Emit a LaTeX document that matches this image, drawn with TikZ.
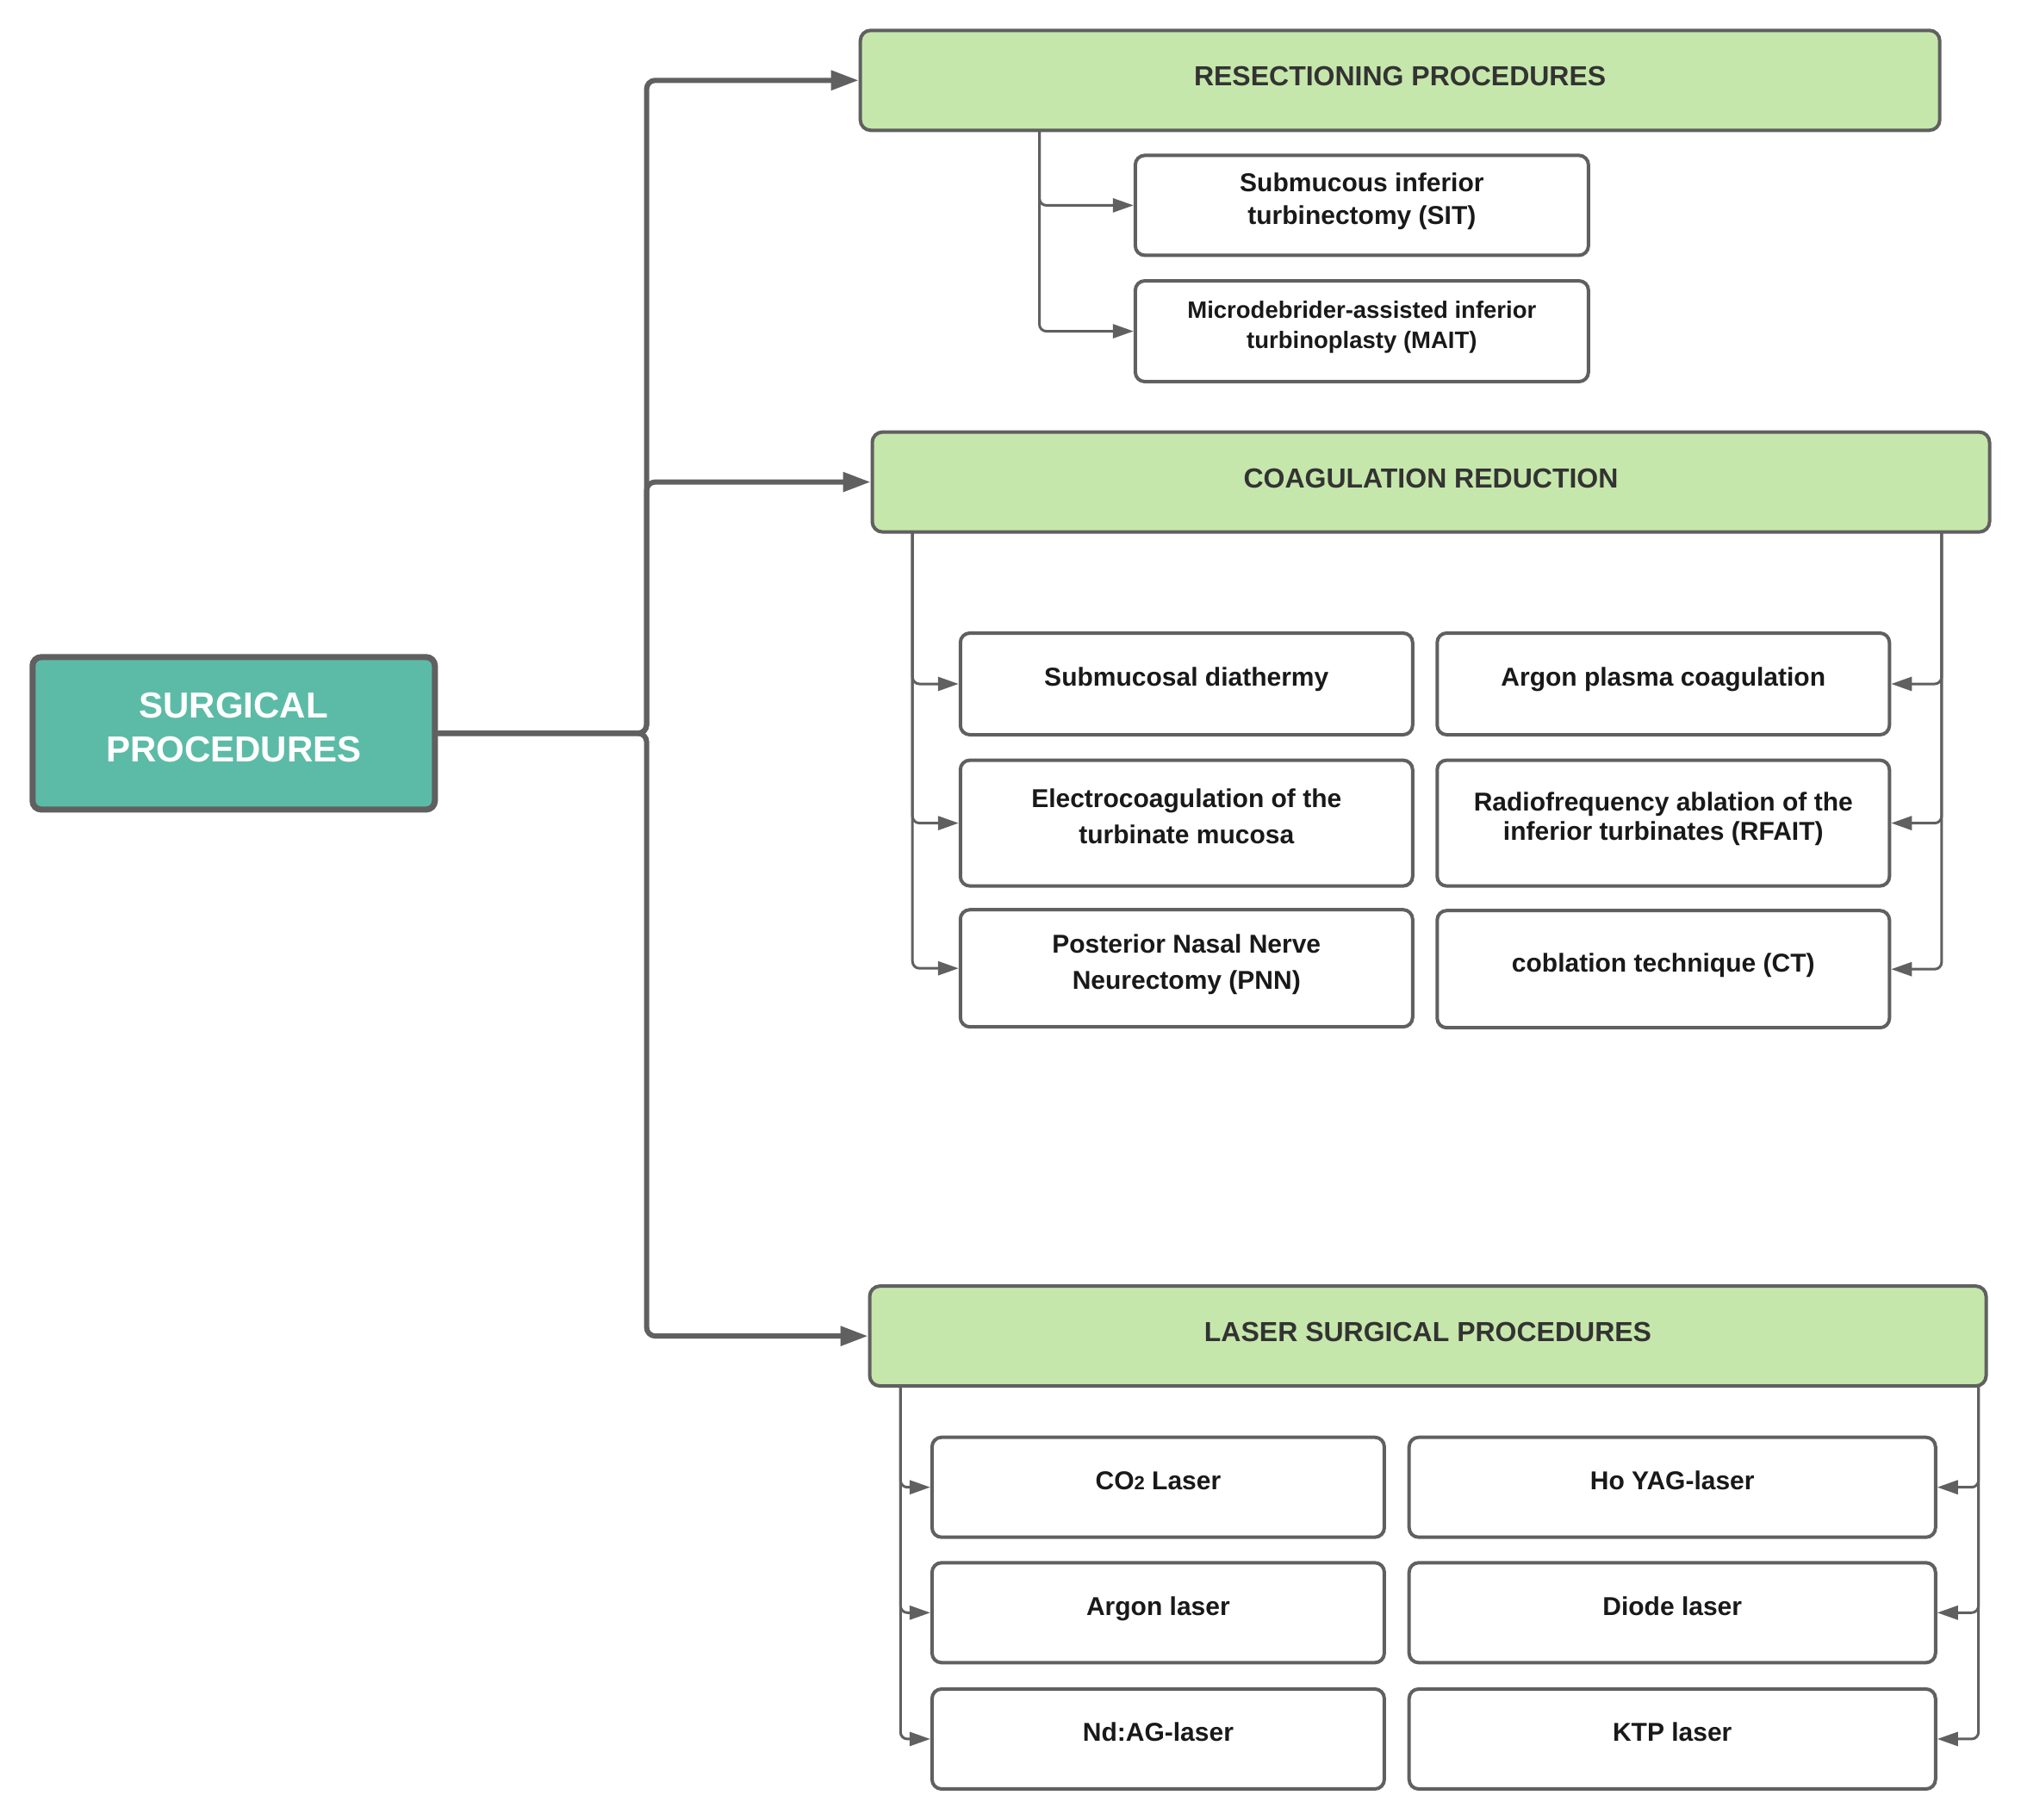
\documentclass[tikz,border=0pt]{standalone}
\usepackage{fontspec}
\setmainfont{Liberation Sans}
\usetikzlibrary{arrows.meta}
\definecolor{lc}{HTML}{606060}
\definecolor{hdrfill}{HTML}{C6E7AB}
\definecolor{teal}{HTML}{5CBBA6}
\definecolor{hdrtext}{HTML}{333333}
\tikzset{
  hdr/.style={draw=lc, line width=4pt, fill=hdrfill, rounded corners=12pt, text=hdrtext,
    font=\fontsize{32}{38}\selectfont\bfseries, inner sep=0pt, minimum height=116pt, text depth=9pt},
  sub/.style={draw=lc, line width=4pt, fill=white, rounded corners=11pt, text=black!90,
    font=\fontsize{30}{42}\selectfont\bfseries, align=center, inner sep=0pt, text depth=16pt},
  root/.style={draw=lc, line width=7pt, fill=teal, rounded corners=10pt, text=white,
    font=\fontsize{42}{51}\selectfont\bfseries, align=center, inner sep=0pt, text depth=15pt},
  bigarrow/.style={draw=lc, line width=6pt, rounded corners=10pt, -{Triangle[length=32pt,width=22pt]}},
  smallarrow/.style={draw=lc, line width=3pt, rounded corners=8pt, -{Triangle[length=24pt,width=16pt]}}
}
\begin{document}
\begin{tikzpicture}[x=0.9955pt,y=-0.9975pt]
\useasboundingbox (0,0) rectangle (2356.6,2117.3);

% root
\node[root, minimum width=467pt, minimum height=177pt] (S) at (272.5,853.5) {SURGICAL\\PROCEDURES};

% headers
\node[hdr, minimum width=1253pt] (R) at (1632.5,93.5) {RESECTIONING PROCEDURES};
\node[hdr, minimum width=1297pt] (C) at (1668.5,561) {COAGULATION REDUCTION};
\node[hdr, minimum width=1296pt] (L) at (1665,1555) {LASER SURGICAL PROCEDURES};

% resection children
\node[sub, minimum width=526pt, minimum height=116pt, font=\fontsize{30}{38}\selectfont\bfseries] (sit) at (1588,239) {Submucous inferior\\turbinectomy (SIT)};
\node[sub, minimum width=526pt, minimum height=117pt, font=\fontsize{27.5}{35}\selectfont\bfseries] (mait) at (1588,385.5) {Microdebrider-assisted inferior\\turbinoplasty (MAIT)};

% coagulation children
\node[sub, minimum width=525pt, minimum height=118pt] (c11) at (1383.5,796) {Submucosal diathermy};
\node[sub, minimum width=525pt, minimum height=118pt] (c12) at (1939.5,796) {Argon plasma coagulation};
\node[sub, minimum width=525pt, minimum height=146pt] (c21) at (1383.5,958) {Electrocoagulation of the\\turbinate mucosa};
\node[sub, minimum width=525pt, minimum height=146pt, font=\fontsize{30}{34}\selectfont\bfseries] (c22) at (1939.5,958) {Radiofrequency ablation of the\\inferior turbinates (RFAIT)};
\node[sub, minimum width=525pt, minimum height=136pt] (c31) at (1383.5,1127) {Posterior Nasal Nerve\\Neurectomy (PNN)};
\node[sub, minimum width=525pt, minimum height=136pt] (c32) at (1939.5,1128) {coblation technique (CT)};

% laser children
\node[sub, minimum width=525pt, minimum height=116pt] (l11) at (1350.5,1731) {CO{\fontsize{22}{22}\selectfont 2} Laser};
\node[sub, minimum width=611pt, minimum height=116pt] (l12) at (1950,1731) {Ho YAG-laser};
\node[sub, minimum width=525pt, minimum height=116pt] (l21) at (1350.5,1877) {Argon laser};
\node[sub, minimum width=611pt, minimum height=116pt] (l22) at (1950,1877) {Diode laser};
\node[sub, minimum width=525pt, minimum height=116pt] (l31) at (1350.5,2024) {Nd:AG-laser};
\node[sub, minimum width=611pt, minimum height=116pt] (l32) at (1950,2024) {KTP laser};

% trunk start coordinates
\coordinate (rs) at (1212,153);
\coordinate (cl) at (1064,620);
\coordinate (cr) at (2264,620);
\coordinate (ll) at (1050,1614);
\coordinate (lr) at (2307,1614);

% main connectors
\draw[bigarrow] (S.east) -- (754,853.5) |- (R.west);
\draw[bigarrow] (S.east) -- (754,853.5) |- (C.west);
\draw[bigarrow] (S.east) -- (754,853.5) |- (L.west);

% resection
\draw[smallarrow] (rs) |- (sit.west);
\draw[smallarrow] (rs) |- (mait.west);

% coagulation
\draw[smallarrow] (cl) |- (c11.west);
\draw[smallarrow] (cl) |- (c21.west);
\draw[smallarrow] (cl) |- (c31.west);
\draw[smallarrow] (cr) |- (c12.east);
\draw[smallarrow] (cr) |- (c22.east);
\draw[smallarrow] (cr) |- (c32.east);

% laser
\draw[smallarrow] (ll) |- (l11.west);
\draw[smallarrow] (ll) |- (l21.west);
\draw[smallarrow] (ll) |- (l31.west);
\draw[smallarrow] (lr) |- (l12.east);
\draw[smallarrow] (lr) |- (l22.east);
\draw[smallarrow] (lr) |- (l32.east);
\end{tikzpicture}
\end{document}
